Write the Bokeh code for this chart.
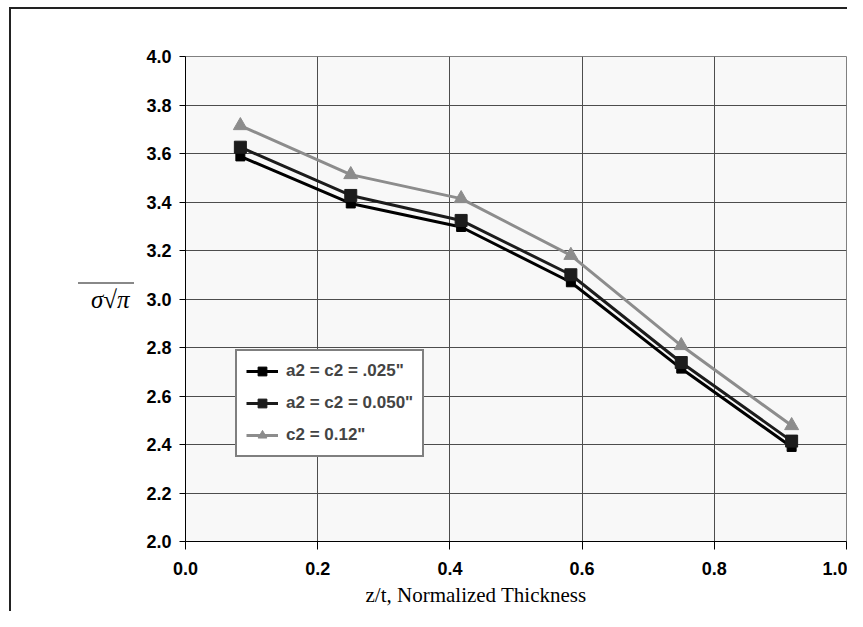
from bokeh.plotting import figure
from bokeh.models import (Range1d, FixedTicker, NumeralTickFormatter, Legend, LegendItem,
                          Title, InlineStyleSheet)
from bokeh.embed import file_html
from bokeh.resources import INLINE

# ---- data ----
z_t = [0.083, 0.25, 0.417, 0.583, 0.75, 0.917]
s_025 = [3.588, 3.394, 3.297, 3.069, 2.713, 2.390]
s_050 = [3.626, 3.427, 3.324, 3.100, 2.738, 2.414]
s_012 = [3.715, 3.513, 3.414, 3.180, 2.808, 2.478]
names = ['a2 = c2 = .025"', 'a2 = c2 = 0.050"', 'c2 = 0.12"']
x_ticks = [0.0, 0.2, 0.4, 0.6, 0.8, 1.0]
y_ticks = [2.0, 2.2, 2.4, 2.6, 2.8, 3.0, 3.2, 3.4, 3.6, 3.8, 4.0]
x_title = "z/t, Normalized Thickness"
y_title = "\u03c3\u221a\u03c0"  # sigma sqrt pi (drawn with an overline)

p = figure(width=847, height=611, output_backend="svg", toolbar_location=None,
           x_range=Range1d(0, 1), y_range=Range1d(2, 4),
           min_border_left=185, min_border_right=1, min_border_top=56, min_border_bottom=70)

p.background_fill_color = "#f8f8f8"
p.border_fill_color = "white"
p.outline_line_color = "#808080"

for ax, ticks in ((p.xaxis[0], x_ticks), (p.yaxis[0], y_ticks)):
    ax.ticker = FixedTicker(ticks=ticks)
    ax.formatter = NumeralTickFormatter(format="0.0")
    ax.major_label_text_font = "Liberation Sans"
    ax.major_label_text_font_style = "bold"
    ax.major_label_text_font_size = "18px"
    ax.major_label_text_color = "black"
    ax.axis_line_color = "black"
    ax.major_tick_line_color = "black"
    ax.minor_tick_line_color = None
    ax.major_tick_in = 0
p.xaxis.major_tick_out = 8
p.xaxis.major_label_standoff = 12
p.yaxis.major_tick_out = 6
p.yaxis.major_label_standoff = 8

p.yaxis.axis_label = y_title
p.yaxis.axis_label_orientation = "horizontal"
p.yaxis.axis_label_text_font = "Liberation Serif"
p.yaxis.axis_label_text_font_style = "italic"
p.yaxis.axis_label_text_font_size = "25px"
p.yaxis.axis_label_text_color = "black"
p.yaxis.axis_label_standoff = 14

p.grid.grid_line_color = "#4d4d4d"
p.grid.grid_line_width = 1

l1 = p.line(z_t, s_025, line_color="black", line_width=3)
m1 = p.scatter(z_t, s_025, marker="square", size=9, fill_color="black", line_color="black")
l2 = p.line(z_t, s_050, line_color="#1c1c1c", line_width=3)
m2 = p.scatter(z_t, s_050, marker="square", size=12, fill_color="#1c1c1c", line_color="#1c1c1c")
l3 = p.line(z_t, s_012, line_color="#8c8c8c", line_width=3)
m3 = p.scatter(z_t, s_012, marker="triangle", size=14, fill_color="#8c8c8c", line_color="#8c8c8c")

legend = Legend(items=[LegendItem(label=names[0], renderers=[l1, m1]),
                       LegendItem(label=names[1], renderers=[l2, m2]),
                       LegendItem(label=names[2], renderers=[l3, m3])],
                location=(50, 84))
legend.border_line_color = "black"
legend.border_line_width = 2
legend.background_fill_color = "white"
legend.background_fill_alpha = 1
legend.label_text_font = "Liberation Sans"
legend.label_text_font_style = "bold"
legend.label_text_font_size = "17px"
legend.glyph_width = 32
legend.glyph_height = 22
legend.label_height = 22
legend.label_standoff = 8
legend.spacing = 10
legend.padding = 9
legend.margin = 0
p.add_layout(legend)

xt = Title(text=x_title, align="left", offset=180, standoff=6,
           text_font="Liberation Serif", text_font_style="normal",
           text_font_size="21px", text_color="black")
p.add_layout(xt, "below")

p.stylesheets = [InlineStyleSheet(css="""
:host { position: relative; }
:host::after { content: ""; position: absolute; left: 9px; top: 7px; right: 0; bottom: 0;
  border-left: 2px solid #222; border-top: 2px solid #222; pointer-events: none; }
:host::before { content: ""; position: absolute; left: 78px; top: 282px; width: 56px; height: 2px;
  background: #888888; pointer-events: none; z-index: 5; }
""")]

open("out.html", "w").write(file_html(p, INLINE))
